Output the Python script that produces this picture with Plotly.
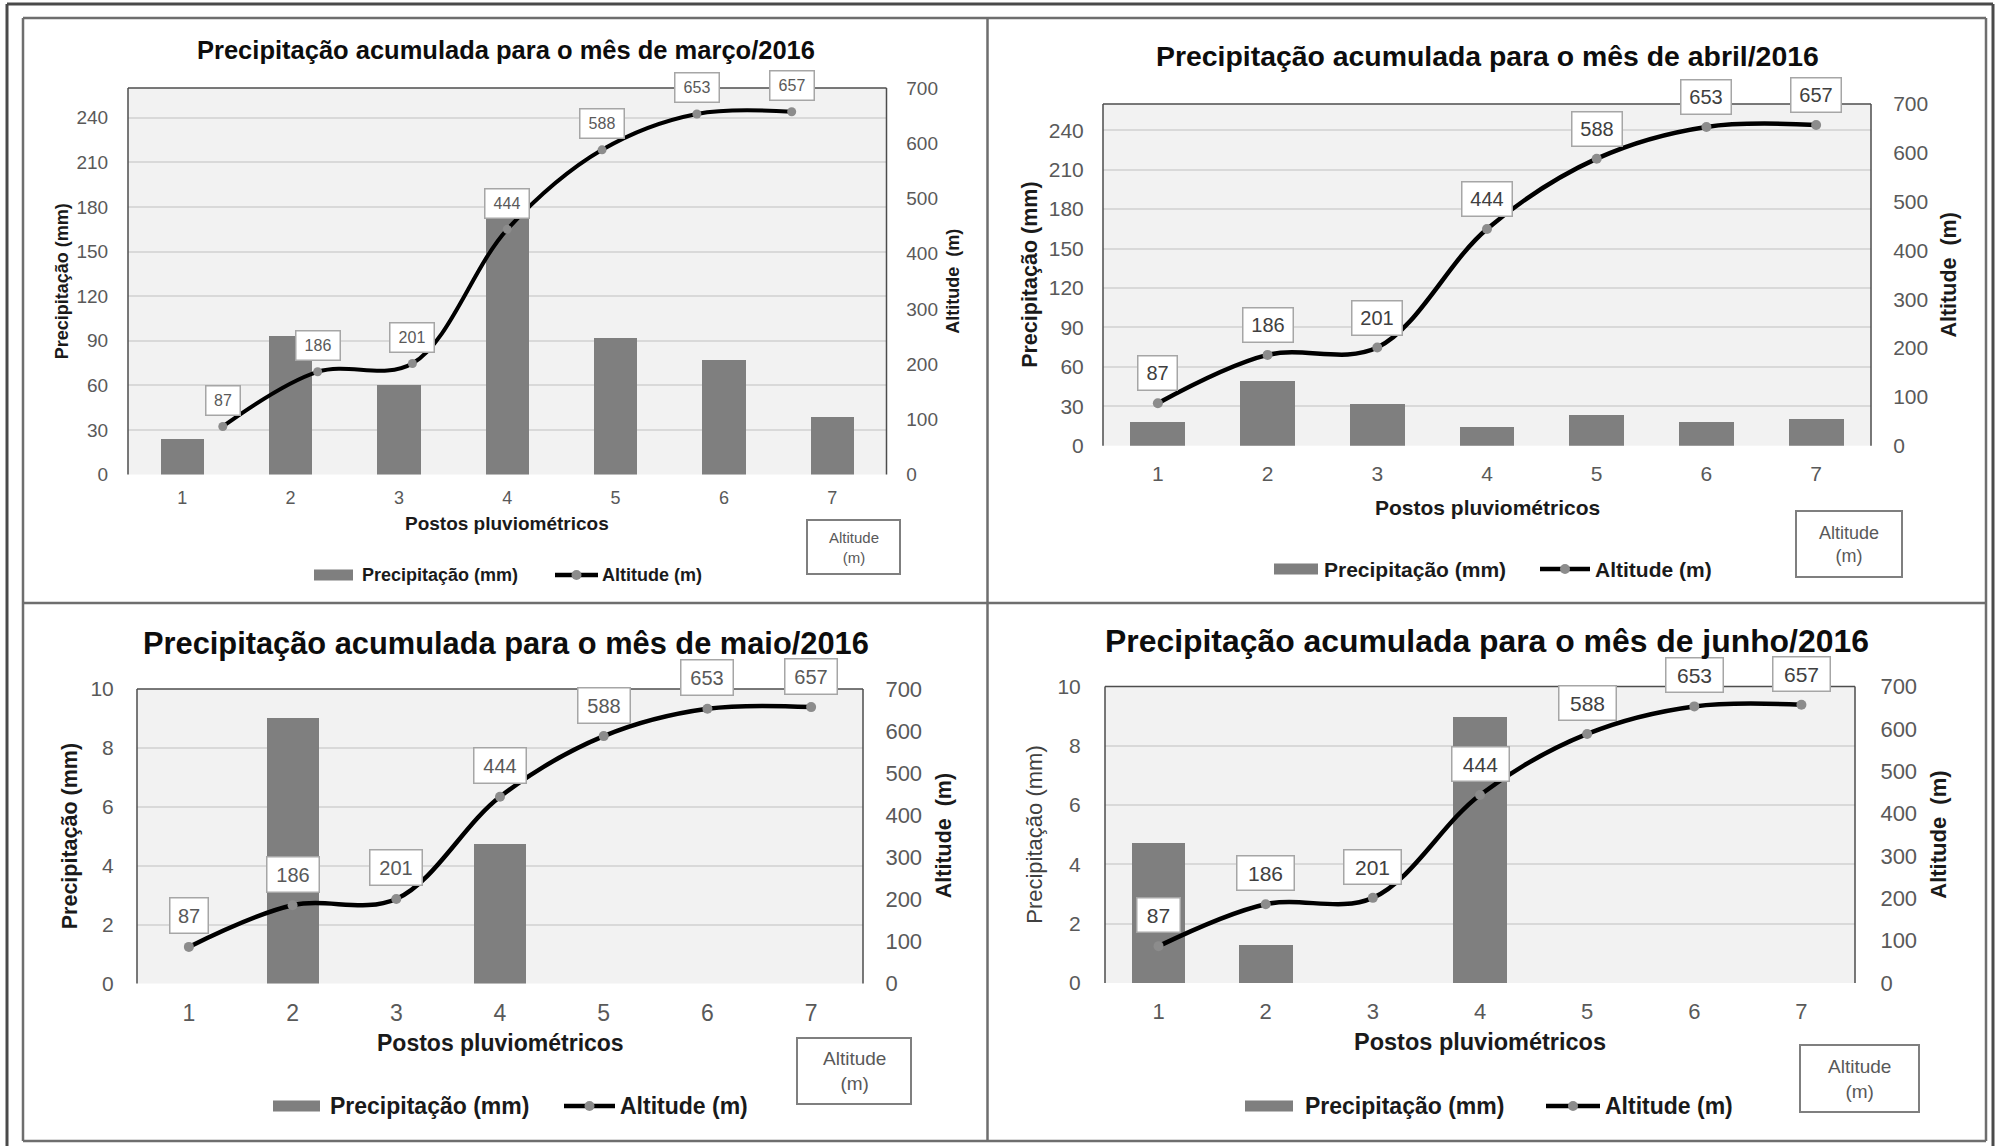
import plotly.graph_objects as go

# ---- data -------------------------------------------------------------
postos = [1, 2, 3, 4, 5, 6, 7]
altitude_m = [87, 186, 201, 444, 588, 653, 657]

precip_marco = [24, 93, 60, 176, 92, 77, 39]
precip_abril = [18, 49, 32, 14, 23, 18, 20]
precip_maio = [0, 9.0, 0, 4.75, 0, 0, 0]
precip_junho = [4.75, 1.3, 0, 9.0, 0, 0, 0]

meses = ["março", "abril", "maio", "junho"]
titulo = "Precipitação acumulada para o mês de {}/2016"
x_label = "Postos pluviométricos"
y_label = "Precipitação (mm)"
y2_label = "Altitude  (m)"
leg_bar = "Precipitação (mm)"
leg_line = "Altitude (m)"
box_text = "Altitude<br>(m)"

# ---- page geometry (pixels) -------------------------------------------
W, H = 2002, 1146
FONT = "Liberation Sans, Arial, sans-serif"


def fx(x):
    return x / W


def fy(y):
    return 1 - y / H


styles = [
    dict(precip=precip_marco, plot=(128, 886.5, 88, 474.5), ymax=260, ydtick=30,
         bar_w=0.4, line_range=(0, 8), tl=19, tr=19, tx=18, gl=15, gr=15, gx=7,
         title_size=25.5, title_xy=(505.5, 50), xt_size=19, xt_y=523,
         yt_size=18, yt_lx=62, yt_rx=953.5, yt_lbold=True,
         lab_size=16, lab_shift=26, lab_w={2: 33, 3: 43}, lab_h=28, lab_col="#595959",
         leg_y=575, leg_rect=(314, 353), leg_t1=360, leg_ln=(555, 598), leg_t2=600,
         leg_size=18, box=(807, 900, 520, 574), box_size=15, lw=4, ms=9),
    dict(precip=precip_abril, plot=(1103, 1871, 104, 445.7), ymax=260, ydtick=30,
         bar_w=0.5, line_range=None, tl=21, tr=21, tx=21, gl=14, gr=17, gx=9,
         title_size=28.4, title_xy=(1487, 55.5), xt_size=21, xt_y=507,
         yt_size=21.5, yt_lx=1030, yt_rx=1948.7, yt_lbold=True,
         lab_size=20, lab_shift=30, lab_w={2: 38, 3: 49}, lab_h=33, lab_col="#404040",
         leg_y=569, leg_rect=(1274, 1318), leg_t1=1322, leg_ln=(1540, 1590), leg_t2=1593,
         leg_size=21, box=(1796, 1902, 511, 577), box_size=18, lw=4.5, ms=10),
    dict(precip=precip_maio, plot=(137, 863, 689, 983.5), ymax=10, ydtick=2,
         bar_w=0.5, line_range=None, tl=21, tr=22, tx=23, gl=18, gr=17, gx=9,
         title_size=30.8, title_xy=(506, 643), xt_size=23, xt_y=1043,
         yt_size=21.5, yt_lx=70, yt_rx=944, yt_lbold=True,
         lab_size=20, lab_shift=31, lab_w={2: 37, 3: 51}, lab_h=34, lab_col="#595959",
         leg_y=1106, leg_rect=(273, 320), leg_t1=328, leg_ln=(564, 615), leg_t2=618,
         leg_size=23, box=(797, 911, 1038, 1104), box_size=19, lw=4.5, ms=10),
    dict(precip=precip_junho, plot=(1105, 1855, 686.5, 983), ymax=10, ydtick=2,
         bar_w=0.5, line_range=None, tl=21, tr=22, tx=22, gl=19, gr=20, gx=9,
         title_size=31.9, title_xy=(1486.5, 641.4), xt_size=23.5, xt_y=1042,
         yt_size=22, yt_lx=1035, yt_rx=1939, yt_lbold=False,
         lab_size=21, lab_shift=31, lab_w={2: 42, 3: 56}, lab_h=33, lab_col="#404040",
         leg_y=1106, leg_rect=(1245, 1293), leg_t1=1303, leg_ln=(1546, 1600), leg_t2=1603,
         leg_size=23, box=(1800, 1919, 1045, 1112), box_size=19, lw=4.5, ms=10),
]

fig = go.Figure()
layout = {}
annotations = []
shapes = []


def axis_key(kind, n):
    return f"{kind}axis" if n == 1 else f"{kind}axis{n}"


def axis_id(kind, n):
    return kind if n == 1 else f"{kind}{n}"


def paper_text(text, x, y, size, color="#000000", bold=False, xanchor="center", angle=0):
    if bold:
        text = f"<b>{text}</b>"
    annotations.append(dict(text=text, x=fx(x), y=fy(y), xref="paper", yref="paper",
                            xanchor=xanchor, yanchor="middle", showarrow=False,
                            textangle=angle, font=dict(family=FONT, size=size, color=color)))


def line_shape(x0, y0, x1, y1, color, width):
    shapes.append(dict(type="line", xref="paper", yref="paper", x0=fx(x0), y0=fy(y0),
                       x1=fx(x1), y1=fy(y1), line=dict(color=color, width=width)))


for i, (mes, s) in enumerate(zip(meses, styles)):
    xn = i + 1
    yl, yr = 2 * i + 1, 2 * i + 2
    xid, ylid, yrid = axis_id("x", xn), axis_id("y", yl), axis_id("y", yr)
    left, right, top, bottom = s["plot"]
    xdom = [fx(left), fx(right)]
    ydom = [fy(bottom), fy(top)]

    layout[axis_key("x", xn)] = dict(
        domain=xdom, anchor=ylid, range=[0.5, 7.5], tickvals=postos, showgrid=False,
        zeroline=False, showline=False, ticks="outside", ticklen=s["gx"],
        tickcolor="rgba(0,0,0,0)", tickfont=dict(family=FONT, size=s["tx"], color="#595959"),
        fixedrange=True, automargin=False)
    layout[axis_key("y", yl)] = dict(
        domain=ydom, anchor=xid, range=[0, s["ymax"]], dtick=s["ydtick"], showgrid=True,
        gridcolor="#d9d9d9", gridwidth=1.5, zeroline=False, showline=False,
        ticks="outside", ticklen=s["gl"], tickcolor="rgba(0,0,0,0)",
        tickfont=dict(family=FONT, size=s["tl"], color="#595959"), fixedrange=True,
        automargin=False)
    layout[axis_key("y", yr)] = dict(
        overlaying=ylid, side="right", anchor=xid, range=[0, 700], dtick=100,
        showgrid=False, zeroline=False, showline=False, ticks="outside",
        ticklen=s["gr"], tickcolor="rgba(0,0,0,0)",
        tickfont=dict(family=FONT, size=s["tr"], color="#595959"), fixedrange=True,
        automargin=False)

    # line series may live on its own horizontal scale
    line_x = xid
    if s["line_range"] is not None:
        line_x = "x5"
        layout["xaxis5"] = dict(overlaying=xid, anchor=yrid, range=list(s["line_range"]),
                                visible=False, fixedrange=True, automargin=False)

    fig.add_trace(go.Bar(x=postos, y=s["precip"], width=s["bar_w"], xaxis=xid, yaxis=ylid,
                         marker=dict(color="#7f7f7f", line=dict(width=0)),
                         name=leg_bar, showlegend=False, hoverinfo="x+y"))
    fig.add_trace(go.Scatter(x=postos, y=altitude_m, xaxis=line_x, yaxis=yrid,
                             mode="lines+markers", name=leg_line, showlegend=False,
                             line=dict(color="#000000", width=s["lw"], shape="spline",
                                       smoothing=1.0),
                             marker=dict(color="#8c8c8c", size=s["ms"])))

    # value labels of the altitude series
    for xv, av in zip(postos, altitude_m):
        txt = str(av)
        annotations.append(dict(
            text=txt, x=xv, y=av, xref=line_x, yref=yrid, showarrow=False,
            xanchor="center", yanchor="middle", yshift=s["lab_shift"],
            width=s["lab_w"][len(txt)], height=s["lab_h"], borderpad=0,
            bgcolor="#ffffff", bordercolor="#a6a6a6", borderwidth=1.5,
            font=dict(family=FONT, size=s["lab_size"], color=s["lab_col"])))

    # plot-area outline (left, top, right)
    for x0, y0, x1, y1 in [(0, 0, 0, 1), (0, 1, 1, 1), (1, 0, 1, 1)]:
        shapes.append(dict(type="line", xref=f"{xid} domain", yref=f"{ylid} domain",
                           x0=x0, y0=y0, x1=x1, y1=y1,
                           line=dict(color="#4d4d4d", width=1.5)))

    # titles
    tx, ty = s["title_xy"]
    paper_text(titulo.format(mes), tx, ty, s["title_size"], "#0d0d0d", bold=True)
    paper_text(x_label, (left + right) / 2, s["xt_y"], s["xt_size"], "#1a1a1a", bold=True)
    paper_text(y_label, s["yt_lx"], (top + bottom) / 2, s["yt_size"],
               "#1a1a1a" if s["yt_lbold"] else "#404040", bold=s["yt_lbold"], angle=-90)
    paper_text(y2_label, s["yt_rx"], (top + bottom) / 2, s["yt_size"], "#1a1a1a",
               bold=True, angle=-90)

    # legend row
    ly = s["leg_y"]
    r0, r1 = s["leg_rect"]
    shapes.append(dict(type="rect", xref="paper", yref="paper", x0=fx(r0), x1=fx(r1),
                       y0=fy(ly + 5.5), y1=fy(ly - 5.5), fillcolor="#7f7f7f",
                       line=dict(width=0)))
    paper_text(leg_bar, s["leg_t1"], ly, s["leg_size"], "#1a1a1a", bold=True, xanchor="left")
    l0, l1 = s["leg_ln"]
    line_shape(l0, ly, l1, ly, "#000000", 4.5)
    cx = (l0 + l1) / 2
    shapes.append(dict(type="circle", xref="paper", yref="paper", x0=fx(cx - 5),
                       x1=fx(cx + 5), y0=fy(ly + 5), y1=fy(ly - 5),
                       fillcolor="#8c8c8c", line=dict(width=0)))
    paper_text(leg_line, s["leg_t2"], ly, s["leg_size"], "#1a1a1a", bold=True, xanchor="left")

    # small framed caption
    b0, b1, b2, b3 = s["box"]
    shapes.append(dict(type="rect", xref="paper", yref="paper", x0=fx(b0), x1=fx(b1),
                       y0=fy(b3), y1=fy(b2), fillcolor="#ffffff",
                       line=dict(color="#7f7f7f", width=2)))
    paper_text(box_text, (b0 + b1) / 2, (b2 + b3) / 2, s["box_size"], "#595959")

# page frame and panel grid
OUT, INN = "#4a4a4a", "#6e6e6e"
line_shape(7, 4, 1993, 4, OUT, 3)
line_shape(7, 4, 7, 1146, OUT, 3)
line_shape(1993, 4, 1993, 1146, OUT, 3)
line_shape(23, 18, 1986, 18, INN, 2.5)
line_shape(23, 1141, 1986, 1141, INN, 2.5)
line_shape(23, 18, 23, 1141, INN, 2.5)
line_shape(1986, 18, 1986, 1141, INN, 2.5)
line_shape(987.5, 18, 987.5, 1141, INN, 2.5)
line_shape(23, 603, 1986, 603, INN, 2.5)

fig.update_layout(
    width=W, height=H,
    margin=dict(l=0, r=0, t=0, b=0, pad=0, autoexpand=False),
    paper_bgcolor="#ffffff", plot_bgcolor="#f2f2f2", showlegend=False,
    bargap=0, barmode="overlay", font=dict(family=FONT, color="#595959"),
    annotations=annotations, shapes=shapes, **layout)

fig.write_html("out.html", include_plotlyjs=True, config={"displayModeBar": False})
